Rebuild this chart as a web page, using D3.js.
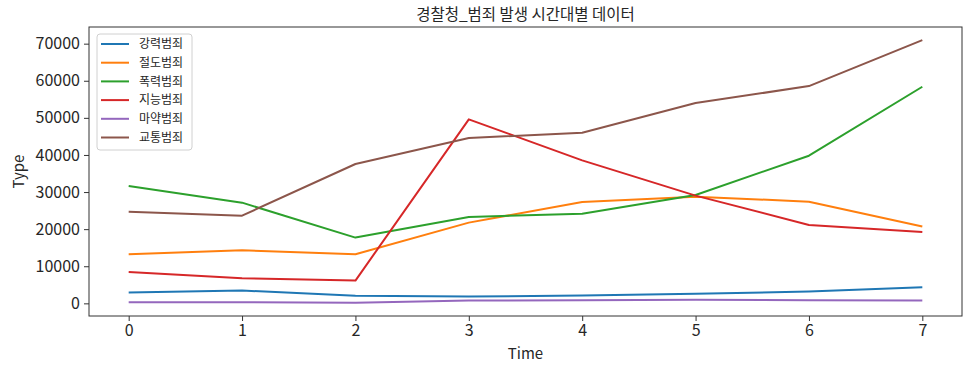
<!DOCTYPE html>
<html>
<head>
<meta charset="utf-8">
<script src="https://cdn.jsdelivr.net/npm/d3@7"></script>
<style>
  body { margin: 0; background: #fff; }
  text { font-family: "Noto Sans CJK KR", "Noto Sans", sans-serif; fill: #262626; }
</style>
</head>
<body>
<div id="chart"></div>
<script>
// data
const times = [0, 1, 2, 3, 4, 5, 6, 7];
const seriesNames = ["강력범죄", "절도범죄", "폭력범죄", "지능범죄", "마약범죄", "교통범죄"];
const violent = [2900, 3450, 2020, 1850, 2100, 2560, 3180, 4360];
const theft = [13240, 14320, 13240, 21760, 27330, 28760, 27410, 20690];
const assault = [31640, 27140, 17720, 23290, 24180, 29210, 39800, 58380];
const fraud = [8480, 6780, 6140, 49600, 38550, 29030, 21140, 19250];
const drugs = [320, 300, 130, 750, 860, 940, 860, 750];
const traffic = [24720, 23640, 37560, 44560, 45990, 53990, 58560, 70950];
const yTicks = [0, 10000, 20000, 30000, 40000, 50000, 60000, 70000];
const colors = ["#1f77b4", "#ff7f0e", "#2ca02c", "#d62728", "#9467bd", "#8c564b"];

const series = [violent, theft, assault, fraud, drugs, traffic].map((vals, i) => ({
  name: seriesNames[i],
  color: colors[i],
  values: vals.map((v, j) => ({ t: times[j], v: v }))
}));

const width = 974, height = 377;
const margin = { top: 27, right: 12, bottom: 61, left: 89 };

const svg = d3.select("#chart").append("svg")
  .attr("width", width)
  .attr("height", height);

// matplotlib style 5% padding on both axes
const tMin = d3.min(times), tMax = d3.max(times);
const tPad = (tMax - tMin) * 0.05;
const allVals = series.flatMap(s => s.values.map(d => d.v));
const vMin = d3.min(allVals), vMax = d3.max(allVals);
const vPad = (vMax - vMin) * 0.05;

const x = d3.scaleLinear()
  .domain([tMin - tPad, tMax + tPad])
  .range([margin.left, width - margin.right]);

const y = d3.scaleLinear()
  .domain([vMin - vPad, vMax + vPad])
  .range([height - margin.bottom, margin.top]);

// lines
const line = d3.line().x(d => x(d.t)).y(d => y(d.v));

svg.append("g")
  .selectAll("path")
  .data(series)
  .enter()
  .append("path")
  .attr("d", d => line(d.values))
  .attr("fill", "none")
  .attr("stroke", d => d.color)
  .attr("stroke-width", 2)
  .attr("stroke-linejoin", "round");

// axes
const xAxis = d3.axisBottom(x).tickValues(times).tickSize(5).tickPadding(4).tickFormat(d3.format("d"));
const yAxis = d3.axisLeft(y).tickValues(yTicks).tickSize(5).tickPadding(4).tickFormat(d3.format("d"));

const gx = svg.append("g")
  .attr("transform", `translate(0,${height - margin.bottom})`)
  .call(xAxis);
const gy = svg.append("g")
  .attr("transform", `translate(${margin.left},0)`)
  .call(yAxis);

[gx, gy].forEach(g => {
  g.select(".domain").remove();
  g.selectAll(".tick line").attr("stroke", "#333").attr("stroke-width", 1);
  g.selectAll(".tick text").attr("font-size", 16).attr("fill", "#262626");
});

// frame
svg.append("rect")
  .attr("x", margin.left)
  .attr("y", margin.top)
  .attr("width", width - margin.left - margin.right)
  .attr("height", height - margin.top - margin.bottom)
  .attr("fill", "none")
  .attr("stroke", "#333")
  .attr("stroke-width", 1);

// title and axis labels
svg.append("text")
  .attr("x", (margin.left + width - margin.right) / 2)
  .attr("y", 19.5)
  .attr("text-anchor", "middle")
  .attr("font-size", 15.5)
  .text("경찰청_범죄 발생 시간대별 데이터");

svg.append("text")
  .attr("x", (margin.left + width - margin.right) / 2)
  .attr("y", 359)
  .attr("text-anchor", "middle")
  .attr("font-size", 15)
  .text("Time");

svg.append("text")
  .attr("transform", `translate(24,${(margin.top + height - margin.bottom) / 2}) rotate(-90)`)
  .attr("text-anchor", "middle")
  .attr("font-size", 15)
  .text("Type");

// legend
const legend = svg.append("g").attr("transform", "translate(97,34)");

legend.append("rect")
  .attr("width", 95)
  .attr("height", 116)
  .attr("rx", 3)
  .attr("fill", "#fff")
  .attr("fill-opacity", 0.8)
  .attr("stroke", "#d0d0d0");

const rows = legend.selectAll(".row")
  .data(series)
  .enter()
  .append("g")
  .attr("class", "row")
  .attr("transform", (d, i) => `translate(0,${10 + i * 18.7})`);

rows.append("line")
  .attr("x1", 4).attr("x2", 32)
  .attr("stroke", d => d.color)
  .attr("stroke-width", 2);

rows.append("text")
  .attr("x", 42)
  .attr("dy", "0.35em")
  .attr("font-size", 12)
  .text(d => d.name);
</script>
</body>
</html>
